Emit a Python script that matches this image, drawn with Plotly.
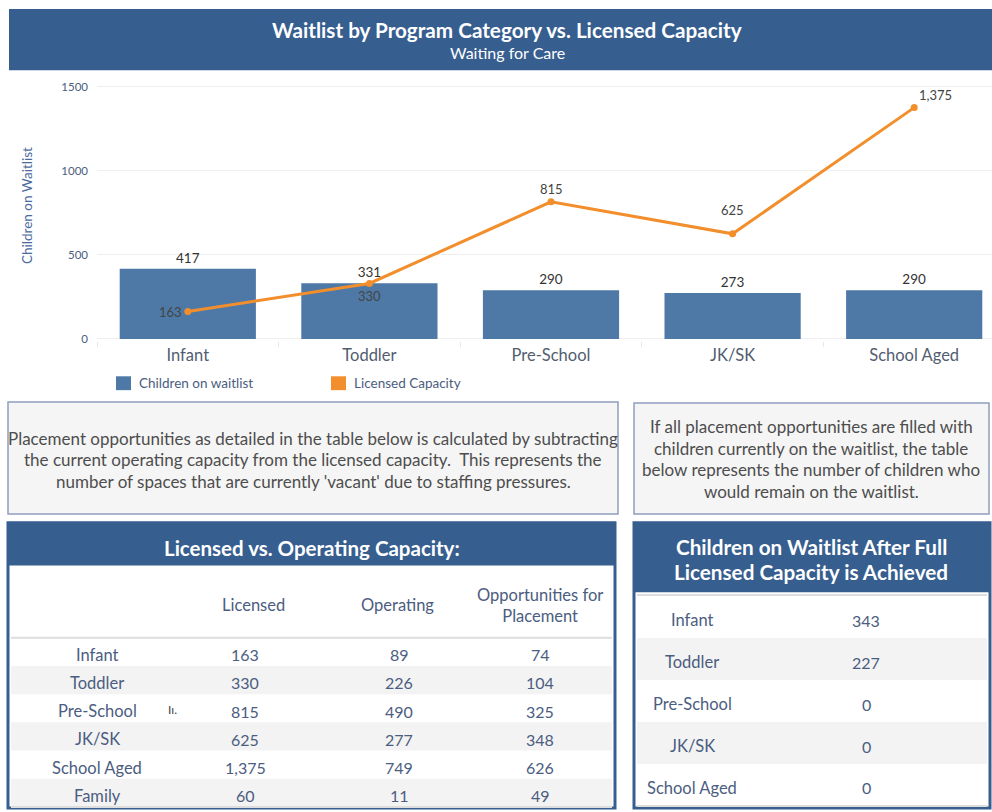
import plotly.graph_objects as go

# ---------------- data ----------------
categories = ["Infant", "Toddler", "Pre-School", "JK/SK", "School Aged"]
waitlist = [417, 331, 290, 273, 290]
licensed = [163, 330, 815, 625, 1375]
y_ticks = [0, 500, 1000, 1500]

cap_rows = ["Infant", "Toddler", "Pre-School", "JK/SK", "School Aged", "Family"]
cap_licensed = [163, 330, 815, 625, 1375, 60]
cap_operating = [89, 226, 490, 277, 749, 11]
cap_opportunities = [74, 104, 325, 348, 626, 49]
cap_headers = ["Licensed", "Operating", "Opportunities for<br>Placement"]

remain_rows = ["Infant", "Toddler", "Pre-School", "JK/SK", "School Aged"]
remain_values = [343, 227, 0, 0, 0]

title_text = "Waitlist by Program Category vs. Licensed Capacity"
subtitle_text = "Waiting for Care"
note1_lines = [
    "Placement opportunities as detailed in the table below is calculated by subtracting",
    "the current operating capacity from the licensed capacity.  This represents the",
    "number of spaces that are currently 'vacant' due to staffing pressures.",
]
note2_lines = [
    "If all placement opportunities are filled with",
    "children currently on the waitlist, the table",
    "below represents the number of children who",
    "would remain on the waitlist.",
]

# ---------------- helpers ----------------
W, H = 992, 812
FONT = "Lato"
BLUE_HDR = "#365e8f"
BAR_BLUE = "#4e79a7"
ORANGE = "#f28e2b"
TXT_BLUE = "#4b5d80"


def px(x):
    return x / W


def py(y):
    return 1 - y / H


shapes = []
annotations = []


def rect(x0, y0, x1, y1, fill, line_color=None, line_width=0, layer="below"):
    shapes.append(dict(type="rect", xref="paper", yref="paper",
                       x0=px(x0), x1=px(x1), y0=py(y1), y1=py(y0),
                       fillcolor=fill, layer=layer,
                       line=dict(color=line_color or fill, width=line_width)))


def hline(x0, x1, y, color, width):
    shapes.append(dict(type="line", xref="paper", yref="paper",
                       x0=px(x0), x1=px(x1), y0=py(y), y1=py(y),
                       line=dict(color=color, width=width)))


def text(x, y, s, size, color, bold=False, xanchor="center"):
    annotations.append(dict(xref="paper", yref="paper", x=px(x), y=py(y),
                            text=f"<b>{s}</b>" if bold else s, showarrow=False,
                            xanchor=xanchor, yanchor="middle",
                            font=dict(family=FONT, size=size, color=color)))


# ---------------- figure ----------------
fig = go.Figure()

fig.add_trace(go.Bar(
    x=categories, y=waitlist, name="Children on waitlist",
    marker=dict(color=BAR_BLUE, line=dict(width=0)), width=0.75,
    text=[f"{v:,}" for v in waitlist], textposition="outside",
    textfont=dict(family=FONT, size=13.5, color="#333333"),
    cliponaxis=False, showlegend=False,
))
fig.add_trace(go.Scatter(
    x=categories, y=licensed, name="Licensed Capacity",
    mode="lines+markers", line=dict(color=ORANGE, width=3),
    marker=dict(color=ORANGE, size=7), showlegend=False, cliponaxis=False,
))

# line labels (positioned relative to the data points)
label_offsets = [(-4, 0, "right"), (0, -13, "center"), (0, 13, "center"),
                 (0, 24, "center"), (3, 13, "left")]
for cat, v, (dx, dy, xa) in zip(categories, licensed, label_offsets):
    annotations.append(dict(xref="x", yref="y", x=cat, y=v, text=f"{v:,}",
                            showarrow=False, xanchor=xa, yanchor="middle",
                            xshift=dx, yshift=dy,
                            font=dict(family=FONT, size=13, color="#444444")))

# title banner
rect(9, 5, 992, 67, BLUE_HDR)
text(507, 26, title_text, 20.7, "white", bold=True)
text(507, 49, subtitle_text, 16, "white")

# y axis title
annotations.append(dict(xref="paper", yref="paper", x=px(27), y=py(204),
                        text="Children on Waitlist", textangle=-90, showarrow=False,
                        xanchor="center", yanchor="middle",
                        font=dict(family=FONT, size=13.5, color="#4a6a9c")))

# legend
rect(116, 376, 131, 390, BAR_BLUE)
text(137, 383, "Children on waitlist", 13.5, TXT_BLUE, xanchor="left")
rect(331, 376, 346, 390, ORANGE)
text(352, 383, "Licensed Capacity", 13.5, TXT_BLUE, xanchor="left")

# note boxes
rect(8, 402, 618, 515, "#f5f5f5", "#8e9fbf", 1.5)
for i, line in enumerate(note1_lines):
    text(313, 439 + i * 21.5, line, 17, "#4d4d4d")
rect(634, 403, 989, 515, "#f5f5f5", "#8e9fbf", 1.5)
for i, line in enumerate(note2_lines):
    text(811, 427 + i * 21.7, line, 17, "#4d4d4d")

# ---- table 1 ----
rect(8, 524, 615, 812, "white", BLUE_HDR, 3)
rect(8, 524, 615, 567, BLUE_HDR)
text(312, 549, "Licensed vs. Operating Capacity:", 20.5, "white", bold=True)
col_x = [245, 399, 540]
hdr_x = [253, 397, 540]
for x, h in zip(hdr_x, cap_headers):
    text(x, 607, h, 16.5, TXT_BLUE)
hline(11, 612, 640, "#dddddd", 2)
row_h1 = 28.5
for i, (lab, a, b, c) in enumerate(zip(cap_rows, cap_licensed, cap_operating, cap_opportunities)):
    y0 = 640 + i * row_h1
    if i % 2 == 1:
        rect(11, y0, 612, y0 + row_h1, "#f3f3f3")
    yc = y0 + row_h1 / 2 + 3
    text(97, yc, lab, 16.5, TXT_BLUE)
    for x, v in zip(col_x, (a, b, c)):
        text(x, yc, f"{v:,}", 16, TXT_BLUE)
text(172, 713, "Iı.", 12, "#444444")
hline(11, 612, 811, "#dddddd", 2)

# ---- table 2 ----
rect(634, 524, 990, 812, "white", BLUE_HDR, 3)
rect(634, 524, 990, 594, BLUE_HDR)
text(811, 548, "Children on Waitlist After Full", 20.7, "white", bold=True)
text(811, 574, "Licensed Capacity is Achieved", 20.7, "white", bold=True)
hline(637, 987, 597, "#dddddd", 2)
row_h2 = 42.4
for i, (lab, v) in enumerate(zip(remain_rows, remain_values)):
    y0 = 598 + i * row_h2
    if i % 2 == 1:
        rect(637, y0, 987, y0 + row_h2, "#f3f3f3")
    yc = y0 + row_h2 / 2 + 3
    text(692, yc, lab, 16.5, TXT_BLUE)
    text(866, yc, f"{v:,}", 16, TXT_BLUE)
hline(637, 987, 810, "#dddddd", 2)

cat_w = 181.6
fig.update_layout(
    width=W, height=H, margin=dict(l=0, r=0, t=0, b=0),
    paper_bgcolor="white", plot_bgcolor="white",
    font=dict(family=FONT),
    bargap=0.25,
    xaxis=dict(domain=[px(97), 1], range=[-0.5, -0.5 + (W - 97) / cat_w],
               type="category", tickson="boundaries", ticks="outside",
               ticklen=5, tickcolor="#e8e8e8", showline=False, showgrid=False,
               ticklabelstandoff=3,
               tickfont=dict(family=FONT, size=16.5, color="#525d70")),
    yaxis=dict(domain=[py(340), py(80)], range=[-10, 1520],
               tickvals=y_ticks, ticktext=[str(v) for v in y_ticks],
               showgrid=True, gridcolor="#eeeeee", gridwidth=1,
               zeroline=False, ticks="", ticklabelstandoff=8,
               tickfont=dict(family=FONT, size=11.5, color="#4a6080")),
    shapes=shapes, annotations=annotations,
)

fig.write_html("out.html", config={"displayModeBar": False},
               post_script="document.body.style.margin='0';document.body.style.overflow='hidden';")
